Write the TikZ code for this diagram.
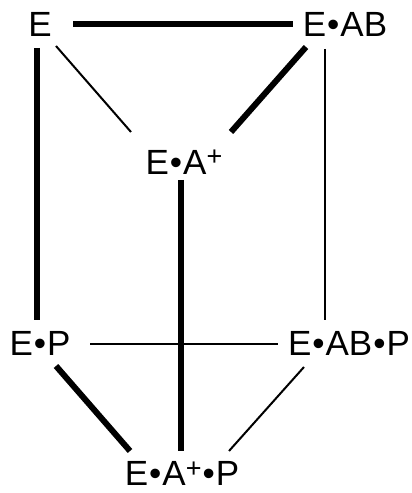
\documentclass[tikz,border=0pt]{standalone}
\usepackage{fontspec}
\setmainfont{Liberation Sans}
\newcommand{\bul}{\kern1pt\textbullet\kern1pt}
\newcommand{\plussup}{\raisebox{8.5pt}{\fontsize{27}{30}\selectfont+}}
\begin{document}
\begin{tikzpicture}[x=1pt,y=1pt,
  lbl/.style={inner sep=0pt,text height=25pt,text depth=0pt,font=\fontsize{35}{40}\selectfont},
  thickline/.style={line width=6pt},
  thinline/.style={line width=2pt}]
\useasboundingbox (0,0) rectangle (412,493);
\node[lbl] (e)    at (40,469)  {E};
\node[lbl] (eab)  at (345,469) {E\bul AB};
\node[lbl] (eap)  at (184,331) {E\bul A\plussup};
\node[lbl] (ep)   at (40,150)  {E\bul P};
\node[lbl] (eabp) at (349,150) {E\bul AB\bul P};
\node[lbl] (eapp) at (182,20)  {E\bul A\plussup\bul P};
% thick
\draw[thickline] ([shift={(33,0)}]e.center) -- ([shift={(-52,0)}]eab.center);
\draw[thickline] ([shift={(-3,-24)}]e.center) -- ([shift={(-3,23)}]ep.center);
\draw[thickline] ([shift={(-39,-23)}]eab.center) -- ([shift={(47,30)}]eap.center);
\draw[thickline] ([shift={(-3,-18)}]eap.center) -- ([shift={(-1,22)}]eapp.center);
\draw[thickline] ([shift={(16,-23)}]ep.center) -- ([shift={(-52,22)}]eapp.center);
% thin
\draw[thinline] ([shift={(16,-22)}]e.center) -- ([shift={(-53,30)}]eap.center);
\draw[thinline] ([shift={(-20,-25)}]eab.center) -- ([shift={(-24,23)}]eabp.center);
\draw[thinline] ([shift={(50,-1)}]ep.center) -- ([shift={(-71,-1)}]eabp.center);
\draw[thinline] ([shift={(-45,-24)}]eabp.center) -- ([shift={(47,22)}]eapp.center);
\end{tikzpicture}
\end{document}
